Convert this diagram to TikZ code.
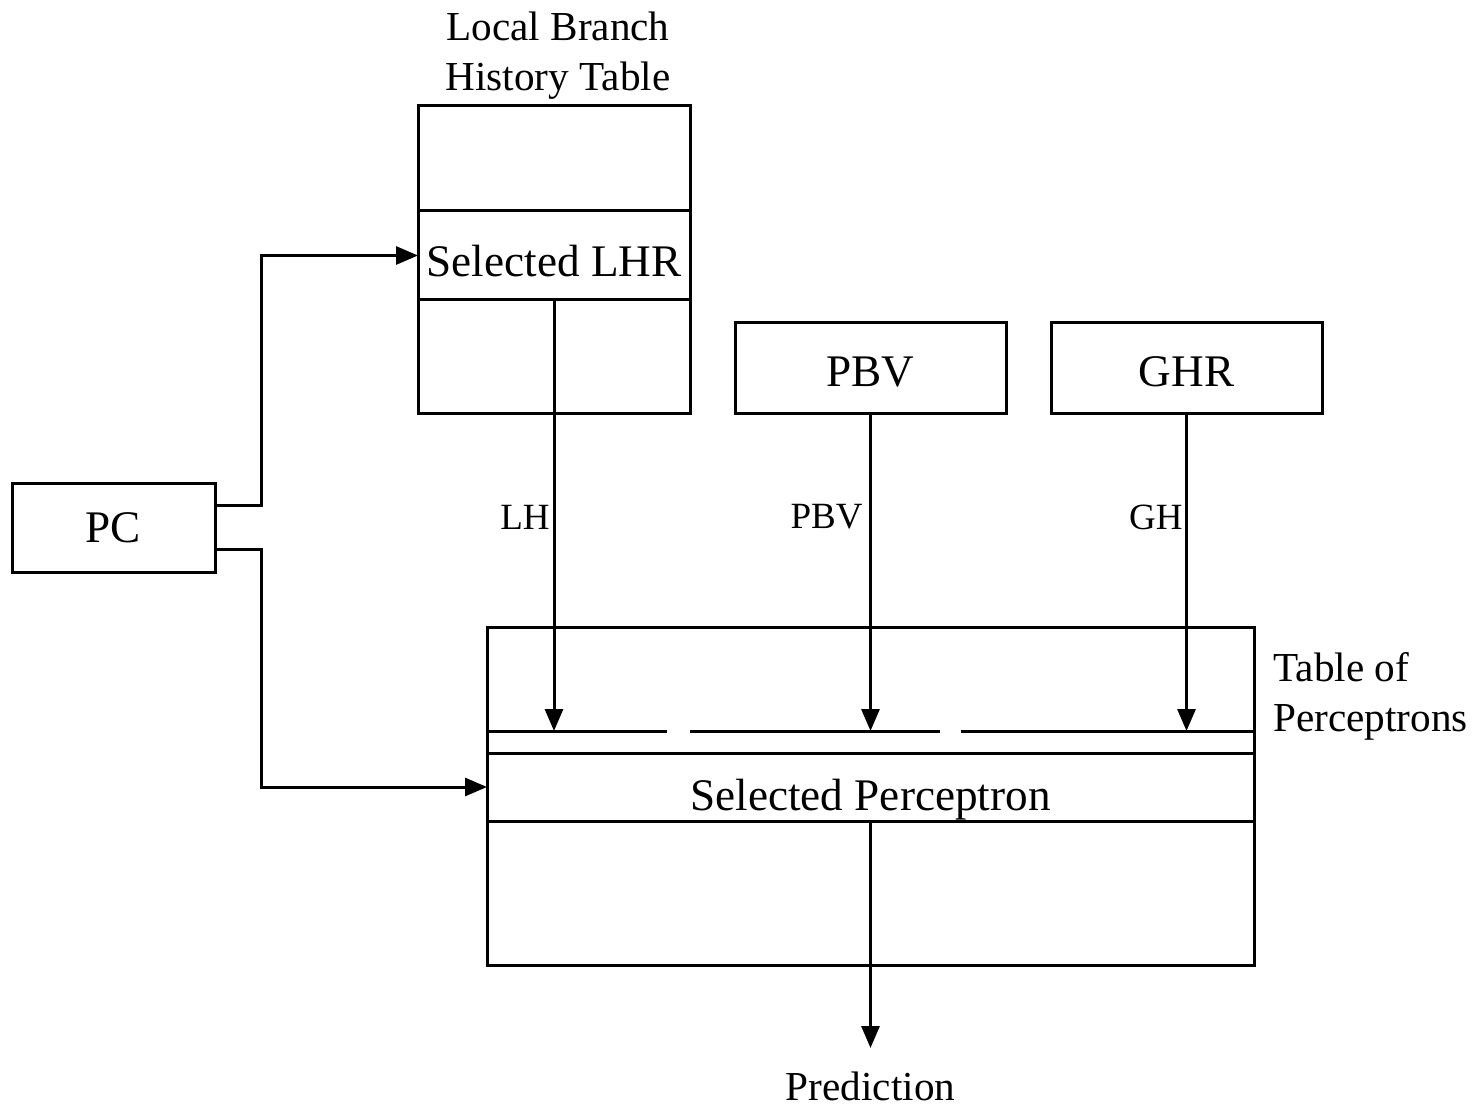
\documentclass[tikz,border=0pt]{standalone}
\usepackage{fontspec}
\setmainfont{Liberation Serif}
\usetikzlibrary{arrows.meta, positioning}

\begin{document}
\begin{tikzpicture}[x=0.5pt, y=-0.5pt,
    box/.style={rectangle, draw=black, line width=1.5pt, inner sep=0pt, outer sep=0pt, font=\fontsize{22.6}{27}\selectfont},
    lowtext/.style={text height=#1, text depth=0pt},
    lbl/.style={inner sep=0pt, font=\fontsize{18.5}{22}\selectfont},
    title/.style={inner sep=0pt, font=\fontsize{20.6}{25}\selectfont},
    arrow/.style={line width=1.5pt, -{Triangle[length=11pt, width=9pt]}}]

    \useasboundingbox (0,0) rectangle (1473,1107);

    % history table and registers
    \node[box, minimum width=136pt, minimum height=153.5pt] (lbht) at (554,259.5) {};
    \node[box, lowtext=21.5pt, minimum width=136pt, minimum height=44.5pt] (lhr) at (554,255.5) {Selected LHR};
    \node[title, align=center] (lbhtlab) at (558,56) {Local Branch\\History Table};
    \node[box, lowtext=18.6pt, minimum width=135.5pt, minimum height=45pt] (pbv) at (870.5,368) {PBV};
    \node[box, lowtext=18.6pt, minimum width=135.5pt, minimum height=45pt] (ghr) at (1186.5,368) {GHR};
    \node[box, minimum width=101.5pt, minimum height=44.5pt] (pc) at (113.5,527.5) {PC};

    % table of perceptrons
    \node[box, minimum width=383.5pt, minimum height=169pt] (ptable) at (870.5,796) {};
    \node[box, lowtext=23pt, minimum width=383.5pt, minimum height=34pt] (selrow) at (870.5,787) {Selected Perceptron};
    \node[title, align=left, anchor=west] (ptablelab) at (1273,696) {Table of\\Perceptrons};
    \draw[line width=1.5pt] (487,731) -- (667,731) (690,731) -- (940,731) (961,731) -- (1254,731);
    \coordinate (seg) at (0,731);

    \node[title, anchor=north, outer ysep=12pt] (pred) at (870.5,1048) {Prediction};

    \node[lbl, anchor=east] (lhlab) at (550,517) {LH};
    \node[lbl, anchor=east] (pbvlab) at (863,517) {PBV};
    \node[lbl, anchor=east] (ghlab) at (1183,517) {GH};

    \draw[arrow] (lhr.south) -- (lhr.south |- seg);
    \draw[arrow] (pbv.south) -- (pbv.south |- seg);
    \draw[arrow] (ghr.south) -- (ghr.south |- seg);
    \draw[arrow] ([yshift=11.25pt]pc.east) -- ++(23pt,0) |- (lhr.west);
    \draw[arrow] ([yshift=-10.75pt]pc.east) -- ++(23pt,0) |- (selrow.west);
    \draw[arrow] (selrow.south) -- (pred.north);
\end{tikzpicture}
\end{document}
